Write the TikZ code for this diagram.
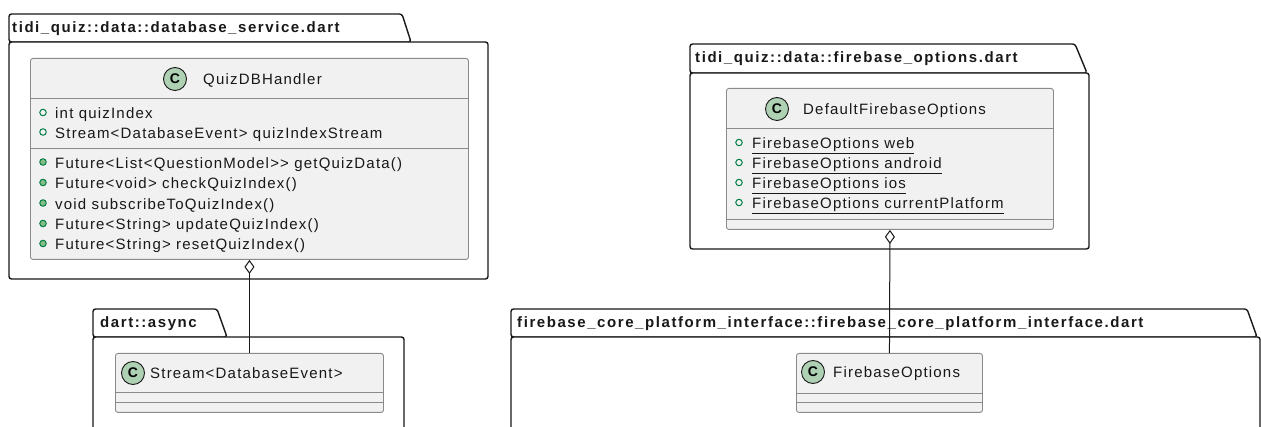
\documentclass[tikz,border=0pt]{standalone}
\usepackage{fontspec}
\setmainfont{Liberation Sans}[LetterSpace=8]
\newfontfamily\titlefont{Liberation Sans}[LetterSpace=10.5]
\newfontfamily\spotfont{Liberation Sans}
\usetikzlibrary{arrows.meta}

\definecolor{pkgline}{HTML}{181818}
\definecolor{clsfill}{HTML}{F1F1F1}
\definecolor{clsline}{HTML}{8A8A8A}
\definecolor{spotfill}{HTML}{ADD1B2}
\definecolor{visline}{HTML}{038048}
\definecolor{visfill}{HTML}{84BE84}

\begin{document}
\begin{tikzpicture}[x=1pt,y=-1pt,
  pkg/.style={draw=pkgline, line width=1.4pt, fill=white, rounded corners=2.5pt},
  clsbox/.style={draw=clsline, line width=0.9pt, fill=clsfill, rounded corners=2.5pt,
                 inner sep=0pt, anchor=north west},
  sep/.style={draw=clsline, line width=0.9pt},
  spot/.style={circle, draw=pkgline, line width=0.9pt, fill=spotfill, minimum size=23pt,
               inner sep=0pt, font=\spotfont\fontsize{14}{14}\selectfont\bfseries},
  title/.style={anchor=base west, inner sep=0pt, text=pkgline, font=\titlefont\fontsize{15}{18}\selectfont\bfseries},
  member/.style={anchor=base west, inner sep=0pt, text=pkgline, font=\fontsize{15}{18}\selectfont},
  field/.style={circle, draw=visline, line width=1pt, minimum size=6.5pt, inner sep=0pt},
  method/.style={circle, draw=visline, line width=1pt, fill=visfill, minimum size=6.5pt, inner sep=0pt},
  agg/.style={draw=pkgline, line width=1pt, {Diamond[open, length=14pt, width=10pt]}-}
]
\useasboundingbox (0,0) rectangle (1261,427);
\clip (0,0) rectangle (1261,427);

% ---------- package: tidi_quiz::data::database_service.dart ----------
\path[pkg] (9,42) -- (9,14) -- (402,14) -- (411,42) -- cycle;
\path[pkg] (9,42) rectangle (488,279);
\node[title] (p1title) at (12,33) {tidi\_quiz::data::database\_service.dart};

\node[clsbox, minimum width=438pt, minimum height=201pt] (quiz) at (30,58) {};
\draw[sep] (30,98) -- (468,98);
\draw[sep] (30,148) -- (468,148);
\node[spot] (quizspot) at (175,79) {C};
\node[member] (quizname) at (203,84.5) {QuizDBHandler};
\node[field] (qf1) at (43,112.5) {};
\node[member] (qa1) at (55,119) {int quizIndex};
\node[field] (qf2) at (43,132) {};
\node[member] (qa2) at (55,138.5) {Stream<DatabaseEvent> quizIndexStream};
\node[method] (qm1) at (43,162) {};
\node[member] (qo1) at (55,168.5) {Future<List<QuestionModel>{}> getQuizData()};
\node[method] (qm2) at (43,182.5) {};
\node[member] (qo2) at (55,189) {Future<void> checkQuizIndex()};
\node[method] (qm3) at (43,203) {};
\node[member] (qo3) at (55,209.5) {void subscribeToQuizIndex()};
\node[method] (qm4) at (43,223.5) {};
\node[member] (qo4) at (55,230) {Future<String> updateQuizIndex()};
\node[method] (qm5) at (43,243.5) {};
\node[member] (qo5) at (55,250) {Future<String> resetQuizIndex()};

% ---------- package: tidi_quiz::data::firebase_options.dart ----------
\path[pkg] (690,73) -- (690,44) -- (1075,44) -- (1087,73) -- cycle;
\path[pkg] (690,73) rectangle (1089,249);
\node[title] (p2title) at (695,63) {tidi\_quiz::data::firebase\_options.dart};

\node[clsbox, minimum width=327pt, minimum height=141pt] (dfo) at (726,88) {};
\draw[sep] (726,128) -- (1053,128);
\draw[sep] (726,219) -- (1053,219);
\node[spot] (dfospot) at (777,109) {C};
\node[member] (dfoname) at (803,114.5) {DefaultFirebaseOptions};
\node[field] (df1) at (739,142.5) {};
\node[member] (da1) at (752,148.3) {\underline{FirebaseOptions web}};
\node[field] (df2) at (739,162.5) {};
\node[member] (da2) at (752,168.3) {\underline{FirebaseOptions android}};
\node[field] (df3) at (739,182.5) {};
\node[member] (da3) at (752,188.3) {\underline{FirebaseOptions ios}};
\node[field] (df4) at (739,202.5) {};
\node[member] (da4) at (752,208.3) {\underline{FirebaseOptions currentPlatform}};

% ---------- package: dart::async ----------
\path[pkg] (93,337) -- (93,309) -- (217,309) -- (227,337) -- cycle;
\path[pkg] (93,337) rectangle (404,440);
\node[title] (p3title) at (100,327.3) {dart::async};

\node[clsbox, minimum width=268pt, minimum height=59pt] (stream) at (115,353) {};
\draw[sep] (115,392) -- (383,392);
\draw[sep] (115,402) -- (383,402);
\node[spot] (streamspot) at (133,373) {C};
\node[member] (streamname) at (150,378.5) {Stream<DatabaseEvent>};

% ---------- package: firebase_core_platform_interface ----------
\path[pkg] (511,337) -- (511,309) -- (1247,309) -- (1257,337) -- cycle;
\path[pkg] (511,337) rectangle (1260,440);
\node[title] (p4title) at (517,327.3) {firebase\_core\_platform\_interface::firebase\_core\_platform\_interface.dart};

\node[clsbox, minimum width=186pt, minimum height=59pt] (fbo) at (796,353) {};
\draw[sep] (796,393) -- (982,393);
\draw[sep] (796,402) -- (982,402);
\node[spot] (fbospot) at (813,372) {C};
\node[member] (fboname) at (833,378) {FirebaseOptions};

% ---------- aggregations ----------
\draw[agg] (quiz.south) -- (stream.north);
\draw[agg] (dfo.south) -- (fbo.north);
\end{tikzpicture}
\end{document}
